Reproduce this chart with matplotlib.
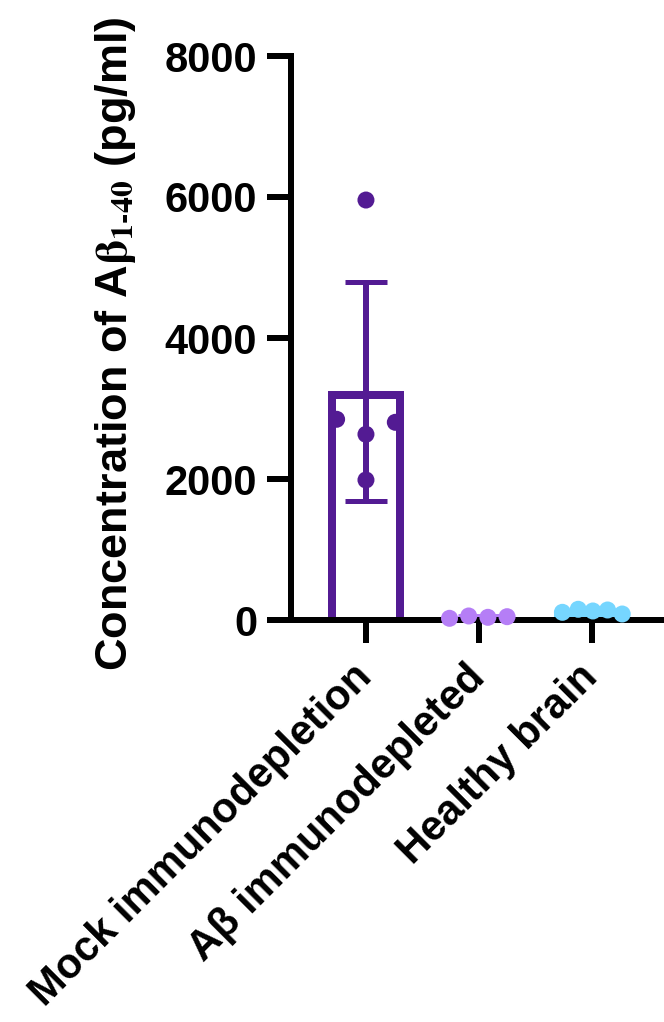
import numpy as np
import matplotlib.pyplot as plt
from matplotlib import transforms

plt.rcParams['font.family'] = ['Liberation Sans', 'DejaVu Sans']
plt.rcParams['font.weight'] = 'bold'
plt.rcParams['mathtext.fontset'] = 'stix'

# Abeta 1-40 concentration per sample (pg/ml)
groups = ['Mock immunodepletion', 'Aβ immunodepleted', 'Healthy brain']
mock = [5957, 2847, 2804, 2634, 1986]
depleted = [24, 57, 38, 47]
healthy = [109, 152, 128, 142, 85]
colors = ['#531B93', '#B57EF6', '#76D6FF']

# horizontal scatter of the dots within each group (x units)
jitter = [[0, -0.26, 0.26, 0, 0],
          [-0.26, -0.09, 0.08, 0.25],
          [-0.26, -0.12, 0.01, 0.14, 0.27]]

W, H = 664, 1022
fig = plt.figure(figsize=(W / 100, H / 100), dpi=100)
ax = fig.add_axes([291 / W, 1 - 620 / H, (W - 291) / W, (620 - 56) / H])

px = 72 / 100  # one pixel in points
bar_w = 0.60
# push the outline down by half its width so the top edge sits on the mean
shift = transforms.offset_copy(ax.transData, fig=fig, y=-4, units='dots')

for i, vals in enumerate([mock, depleted, healthy]):
    vals = np.array(vals, dtype=float)
    m = vals.mean()
    sd = vals.std(ddof=1)
    x0, x1 = i - bar_w / 2, i + bar_w / 2
    ax.plot([x0, x0, x1, x1], [0, m, m, 0], color=colors[i], lw=8 * px,
            solid_joinstyle='miter', transform=shift, zorder=2)
    ax.errorbar(i, m, yerr=sd, color=colors[i], elinewidth=6 * px,
                capsize=21 * px, capthick=5 * px, zorder=3)
    ax.scatter(i + np.array(jitter[i]), vals, s=(17 * px) ** 2, color=colors[i],
               edgecolors='none', zorder=5, clip_on=False)

ax.set_xlim(-0.664, 2.64)
ax.set_ylim(0, 8000)
ax.set_yticks([0, 2000, 4000, 6000, 8000])
ax.set_xticks(range(len(groups)))
ax.set_xticklabels(groups, rotation=45, ha='right', rotation_mode='anchor')

for side in ['top', 'right']:
    ax.spines[side].set_visible(False)
for side in ['left', 'bottom']:
    ax.spines[side].set_linewidth(6 * px)
    ax.spines[side].set_zorder(4)
ax.tick_params(axis='y', length=24 * px, width=6 * px, pad=7, labelsize=30)
ax.tick_params(axis='x', length=23 * px, width=6 * px, pad=8, labelsize=30)

# nudge the slanted labels so they finish just past their tick
# (after tick_params, which resets the label transforms)
nudge = transforms.ScaledTranslation(-14 / 100, -3 / 100, fig.dpi_scale_trans)
for lab in ax.get_xticklabels():
    lab.set_transform(lab.get_transform() + nudge)

ax.set_ylabel(r'Concentration of A$\mathrm{\beta}_{\mathrm{1\text{-}40}}$ (pg/ml)',
              fontsize=32.5, fontweight='bold')
ax.yaxis.set_label_coords(-0.41, 0.49)

fig.savefig('out.png', dpi=100)
